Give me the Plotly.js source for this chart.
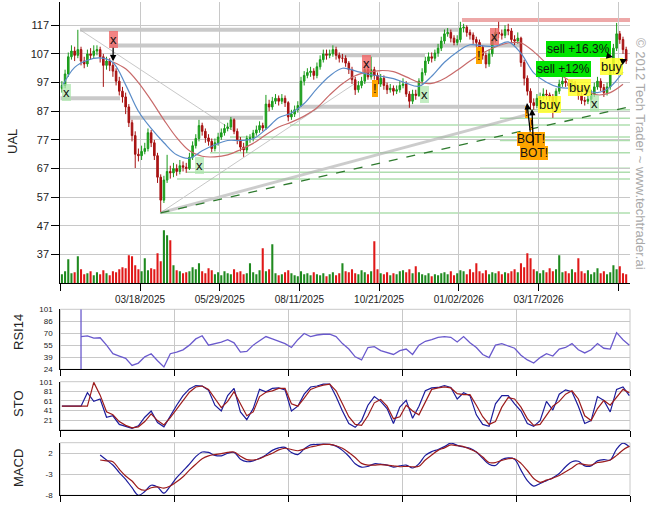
<!DOCTYPE html>
<html><head><meta charset="utf-8">
<script src="https://cdn.plot.ly/plotly-3.0.1.min.js"></script>
<style>html,body{margin:0;padding:0;background:#fff;}#chart{width:657px;height:514px;}</style>
</head><body><div id="chart"></div>
<script>
// ---------- DATA ----------
// one candle per 2 trading days, trading-day index = 1 + 2*i
const firstOpen = 95;
const closes = [
96,100,106,108,106.5,108.5,104.5,103.5,107,106.5,
108,108.5,106,103,104.5,103,101,97.5,94,92,
88.5,83,78.5,72,71.5,73,74,79.5,76,71.5,
64,56,63,66,65.5,67,66,68,67.5,67,
71,75,77.5,82,80,77.7,76.5,74,76,78,
79.5,81,81.5,84,80,77,74.5,73.5,77.5,77.7,
79.4,80.5,82,81.2,89.5,88.5,90.5,91.5,90.5,91.5,
90,85,86,87.5,89,97.5,99.5,100.5,101,99.5,
102.5,105,107,106.5,107,108.5,106.5,105.5,105.5,103.8,
101.5,98,94.5,96,97.5,101.5,99,101.5,99.5,96.5,
98.5,96,94.5,95,94,94.5,96,96.5,93,90.5,
93,92.5,97.5,100.5,104.5,106,105.5,107.3,109,111.5,
114,114.5,112.5,111,112,116,116.3,114.5,113.6,112,
111,109.3,106.5,103.5,107,112,114.5,114,113.5,115.5,
115,112,111.5,112.5,104,98.5,94,90,89,91.5,
92,93,92.7,92,89,94,96.5,97.5,97,95.8,
96.5,95,92.5,90.8,90.5,91.2,93,95.5,97.5,95.3,
93.5,95.5,101,109,114,112,108.5,104.5];
const highs = [
97.5,101.5,107.5,110,109.5,115.4,109.5,106,108.5,109,
110,110,109.5,107,106,105.5,104,102,99,95.5,
93.5,89.5,84,80,74,75,76,81,80.5,77,
72.5,65,64.5,71.8,68,69,68.5,70,69.5,69,
72.5,76.5,79,84,83,81,79,77.5,77.5,79.5,
81,82.5,83,85,84.5,81,78,76,78.5,79,
80.5,82,83.5,83,92.7,91,92,93,92.5,93,
92.5,90.5,87.5,89,90.5,99,101,102,102.5,102,
104,106.5,108.5,108.5,108.5,110,109.5,107.5,107,106.5,
104.5,102.5,99,97.5,99,103,102.5,106,102.5,100.5,
100,99.5,97,96.5,96,96,97.5,98.5,97.5,94,
94.5,94.5,98.5,102,106,107.5,107.5,108.5,110.5,113,
115.5,116,115.5,113.5,113.5,118.2,117.5,117,115.5,114.5,
113,112,110,107.5,108.5,113.5,116,118.2,115.5,117,
117.5,116,113.5,114.5,113,105,99.5,95,91.5,93,
93.5,95,94.5,93.5,93,95,98,99,98.5,98,
98,97.5,96,93.5,92,92.5,94.5,97,99,98.5,
96.5,97,102.5,110.5,117.8,115,113,109.5];
const lows = [
93.5,95,99,105,104.5,105.5,103,102,102.5,105,
105.5,106.5,104,95.5,101.5,101,99,96,92.5,90,
86,81.5,76.5,67.2,69.5,70,72,73,74.5,70,
62,51.9,55,62,63.5,64,64.5,65,66,65.5,
66.5,70,74,76.5,78.5,76,75,72.8,73,75,
77,78.5,80,80.5,79,75.5,73,71.1,72.5,76,
76.5,78.5,79.5,80,80.5,87,87.5,89.5,89,89.5,
88.5,83.5,84,85,86.5,88.5,96,98.5,99,98,
98.5,101.5,104,105,105.5,106,105,104,104,102.5,
100,96.5,92.7,93.5,95,96.5,98,98,98,95,
95.5,94.5,93,93.5,92.5,93,93.5,95,92,88.2,
89.5,91,92,96.5,99.5,103.5,104,104.5,106,108,
110.5,113,111,110,110,111,114.5,113,112,110.5,
109.5,108,105,102,102.5,106,111,112.5,112,112.5,
113.5,110.5,110,110.5,102.5,96,92.5,87.4,87.5,88,
90,91,91,90.5,84.7,88,93,95.5,95.5,94.5,
94.5,93.5,91,89.5,89,89.5,90,92,94.5,94,
92,92.5,94.5,100,108,110.5,107,103.5];
// volume (millions)
const volumes = [
9,12,24,10,11,27,14,9,10,12,
8,11,9,13,10,8,12,11,14,16,
15,28,27,18,14,12,25,13,15,14,
30,22,53,48,43,18,13,12,10,11,
12,16,14,20,12,10,15,13,9,11,
8,12,10,9,14,11,12,9,10,20,
11,9,13,35,12,14,39,10,8,9,
11,13,10,8,7,12,9,10,8,11,
9,8,10,7,9,11,8,10,20,12,
11,14,10,9,13,11,9,12,42,14,
10,9,11,8,10,9,12,13,11,14,
10,17,11,9,8,10,7,9,8,10,
11,9,12,8,10,13,12,9,14,11,
20,12,10,13,9,11,10,12,9,11,
10,12,14,11,20,16,30,25,14,12,
10,13,11,15,12,14,28,11,12,10,
14,11,25,12,10,13,9,11,15,10,
12,9,11,18,14,17,10,9];
// moving averages, one point per 8 trading days (index 1 + 8k)
const maFast = [95.5,102.3,104.8,105.6,104,96.2,87,81,76,71.8,70.6,73.2,75.3,76.8,76.8,77.4,80.7,84.7,86.4,89.7,94.9,99.3,102,101.1,99.9,99.2,98.4,96.8,95.7,99.2,104.1,107.7,110.2,109.8,109.7,111.2,107.2,100.4,97.1,95.3,95,94.4,93.5,95.5,100.7];
const maSlow = [null,null,null,null,104.2,101.8,97,90.8,84,77.8,73.2,71.3,71.1,71.8,73.6,75.8,78.8,81.5,83.2,85.3,88.2,92.7,96.6,99.4,100.6,101.2,100.8,99,97.1,96.7,98.4,101.3,104.5,107.3,109.4,110.8,110.8,107.8,103.6,99.9,97.3,94.5,92.7,93.5,96.4];
// RSI14, one point per 4 trading days from index 13
const rsiStart = [24,101];
const rsi14 = [66,67,64,64.5,55,44,41,38,29,32,40,44,35,27,44,46,49,55,63,67,55,57,59,62,58,46,47,55,60,66,63,60,57,52,62,70,66,68,69,69,66,57,50,40,36,52,53,48,46,43,48,50,43,55,60,62,65,66,65,59,66,58,52,43,39,55,57,54,51,42,36,32,39,44,41,50,52,57,49,45,49,57,51,50,71,62,55];
// Stochastic %K / %D, one point per 4 trading days from index 1
const stoK = [50,50,50,50,78,60,65,27,30,12,8,4,9,27,40,16,7,30,52,72,86,93,92,83,52,40,72,87,38,22,45,85,80,87,88,84,40,50,75,90,92,96,96,70,40,14,6,20,52,70,60,45,14,48,62,25,50,82,88,89,93,89,65,78,72,32,12,8,55,72,72,55,40,14,8,20,60,42,75,84,80,50,14,20,70,62,38,85,90,72];
const stoD = [50,50,50,50,50,99.6,73,38.5,32,18,10,5,7,18,34,20,11,26,43,62,79,90,92,85,65,47,60,80,55,30,38,70,79,82,87,87,55,50,67,85,90,94,96,82,55,28,12,10,30,57,64,50,24,28,52,40,32,60,85,88,90,88,76,74,74,52,28,12,18,48,68,65,48,24,10,12,30,50,60,75,82,65,30,20,45,62,52,68,85,78];
// MACD line / signal, one point per 4 trading days from index 25
const macdLine = [1.6,0.4,-0.8,-2.6,-4.2,-6.2,-8,-7.1,-5.6,-6,-7.5,-5.8,-3.8,-2.2,-0.6,1.2,2.3,2.2,1.5,1.4,2,2.2,0.6,0,0.2,0.8,1.6,2.7,3.3,3.4,2.2,1.7,3,4,4.1,4.2,4.1,3.7,2.7,1.3,-0.5,-1.3,-1.1,-0.5,-0.6,-0.8,-1.3,-1,-0.8,-1.5,-0.5,1.5,2.4,2.9,3.6,4.4,3.9,3.5,3.2,2.3,0.8,-0.6,-0.9,0.5,0.9,0.6,-2,-4.5,-5.8,-5.2,-4.5,-3.8,-2.8,-1.2,0,0.1,-1,-1,0.2,0.5,0.4,3,4.4,3.5];
const macdSignal = [0.4,0.2,0,-1.8,-3.4,-4.6,-6.3,-6.8,-6.2,-6,-6.3,-5.8,-4.8,-3.6,-2,-0.6,0.7,1.4,1.7,1.9,2.2,2.3,1.3,0.5,0.4,0.7,1.4,2,2.8,3.2,2.9,2.6,3,3.5,3.8,4.1,4.1,3.8,3.2,2.2,1,-0.4,-0.8,-0.8,-0.7,-0.8,-1,-1.2,-1.1,-1.2,-1.1,0.4,1.6,2.7,3.3,4,3.8,3.6,3,2.3,1.1,-0.2,-0.2,0.3,0.7,0.7,-0.4,-2.1,-4,-4.9,-4.4,-3.9,-3.3,-2.4,-1.5,-0.5,-0.7,-0.8,-0.2,0,0.4,1.5,2.8,3.7];
// axis ticks
const xTickIdx = [0,50,100,150,200,250,300,350];
const xTickLabels = ['','03/18/2025','05/29/2025','08/11/2025','10/21/2025','01/02/2026','03/17/2026',''];
const priceTicks = [37,47,57,67,77,87,97,107,117];
const rsiTickVals = [24,39.4,54.8,70.2,85.6,101];
const rsiTickText = ['24','39','55','70','86','101'];
const stoTicks = [21,41,61,81,101];
const macdTicks = [-8,-3,2];
// support / resistance levels: [price, fromIndex, toIndex]
const greyLevels = [[115.4,12.4,252],[109.9,31.2,288.4],[106.5,173.6,228.8],[91.5,0,37.5],[88.6,150.4,292.8],[84.7,42.5,127.2]];
const redLevels = [[118.8,252,357.4]];
const greenLevels = [[87.5,292.8],[84.6,275.8],[82.2,144.1],[78,106.5],[76.8,275.8],[72.5,93.9],[67.1,263.3],[65.7,79.5],[63.4,73.2],[51.5,62.5]];
// trend lines: [x0,y0,x1,y1]
const trendDashed = [62.9,51.6,357.4,88.6];
const trendGrey = [62.9,51.6,292.8,85.8];
const trendThin = [[12.4,115.4,107.7,80.5],[62.9,51.6,184.9,96.7]];
// signal labels: [text, kind, x, y, tipX, tipY]
const signals = [
 ['x','gx',3.6,93.4],['x','rx',33.2,112.1,33.1,104.4],['x','gx',87.6,68.1],
 ['x','rx',191.8,103.7],['!','or',197.4,94.8],['x','gx',228.5,92.9],
 ['!','or',262.4,106.5],['x','rx',272.4,113.1],['!','orS',292.2,86.6],['!','orS',295.3,82.4],
 ['BOT!','bot',295.3,77.4,292.8,89.9],['BOT!','bot',296.9,72.6,295.9,87.8],
 ['buy','buy',306.6,89.2],['buy','buy',325.7,95.2],['x','gx',335.4,89.7],
 ['buy','buy',345.8,102.5,355.5,105.2],['sell +12%','sell',315.4,101.7],
 ['sell +16.3%','sell',324.8,108.7,346.7,105.9]
];

// ---------- BUILD ----------
const X_MAX = 357.4;
const FONT = 'Liberation Sans, Arial, sans-serif';
const candleX = closes.map((_, i) => 1 + 2 * i);
const opens = closes.map((c, i) => i === 0 ? firstOpen : closes[i - 1]);
const maX = maFast.map((_, k) => 1 + 8 * k);
const rsiX = rsi14.map((_, j) => 13 + 4 * j);
const stoX = stoK.map((_, j) => 1 + 4 * j);
const macdX = macdLine.map((_, j) => 25 + 4 * j);
const volColors = closes.map((c, i) => c >= opens[i] ? '#1f8a1f' : '#e01818');

const traces = [
  {type:'bar', x:candleX, y:volumes, xaxis:'x', yaxis:'y5', marker:{color:volColors, line:{width:0}}, width:1.3, hoverinfo:'skip'},
  {type:'candlestick', x:candleX, open:opens, high:highs, low:lows, close:closes, xaxis:'x', yaxis:'y',
   increasing:{line:{color:'#1a9a1a', width:1}, fillcolor:'#22aa22'},
   decreasing:{line:{color:'#a41010', width:1}, fillcolor:'#b01414'}, whiskerwidth:0, hoverinfo:'skip'},
  {type:'scatter', mode:'lines', x:maX, y:maSlow, line:{color:'#c86a6a', width:1.2, shape:'spline'}, xaxis:'x', yaxis:'y', hoverinfo:'skip'},
  {type:'scatter', mode:'lines', x:maX, y:maFast, line:{color:'#5a8cc8', width:1.2, shape:'spline'}, xaxis:'x', yaxis:'y', hoverinfo:'skip'},
  {type:'scatter', mode:'lines', x:[13,13,13], y:[rsiStart[0], rsiStart[1], rsi14[0]], line:{color:'#6a5acd', width:1.3}, xaxis:'x2', yaxis:'y2', hoverinfo:'skip'},
  {type:'scatter', mode:'lines', x:rsiX, y:rsi14, line:{color:'#6a5acd', width:1.3}, xaxis:'x2', yaxis:'y2', hoverinfo:'skip'},
  {type:'scatter', mode:'lines', x:stoX, y:stoK, line:{color:'#1c1c9c', width:1.2}, xaxis:'x3', yaxis:'y3', hoverinfo:'skip'},
  {type:'scatter', mode:'lines', x:stoX, y:stoD, line:{color:'#9c1c1c', width:1.2}, xaxis:'x3', yaxis:'y3', hoverinfo:'skip'},
  {type:'scatter', mode:'lines', x:macdX, y:macdLine, line:{color:'#1c1c9c', width:1.2, shape:'spline'}, xaxis:'x4', yaxis:'y4', hoverinfo:'skip'},
  {type:'scatter', mode:'lines', x:macdX, y:macdSignal, line:{color:'#9c1c1c', width:1.2, shape:'spline'}, xaxis:'x4', yaxis:'y4', hoverinfo:'skip'}
];

const shapes = [];
greyLevels.forEach(([p,a,b]) => shapes.push({type:'line', xref:'x', yref:'y', x0:a, x1:b, y0:p, y1:p, line:{color:'rgba(165,165,165,0.6)', width:4}, layer:'below'}));
redLevels.forEach(([p,a,b]) => shapes.push({type:'line', xref:'x', yref:'y', x0:a, x1:b, y0:p, y1:p, line:{color:'rgba(225,110,110,0.6)', width:4}, layer:'below'}));
greenLevels.forEach(([p,a]) => shapes.push({type:'line', xref:'x', yref:'y', x0:a, x1:X_MAX, y0:p, y1:p, line:{color:'rgba(120,200,120,0.6)', width:1.5}, layer:'below'}));
shapes.push({type:'line', xref:'x', yref:'y', x0:trendGrey[0], y0:trendGrey[1], x1:trendGrey[2], y1:trendGrey[3], line:{color:'rgba(170,170,170,0.6)', width:3}, layer:'below'});
trendThin.forEach(t => shapes.push({type:'line', xref:'x', yref:'y', x0:t[0], y0:t[1], x1:t[2], y1:t[3], line:{color:'rgba(175,175,175,0.7)', width:1}, layer:'below'}));
shapes.push({type:'line', xref:'x', yref:'y', x0:trendDashed[0], y0:trendDashed[1], x1:trendDashed[2], y1:trendDashed[3], line:{color:'#2e7a2e', width:1.3, dash:'dash'}});
['2','3','4'].forEach(n => shapes.push({type:'rect', xref:'x'+n+' domain', yref:'y'+n+' domain', x0:0, x1:1, y0:0, y1:1, line:{color:'#c8c8c8', width:1}, layer:'below'}));

const styles = {
  gx:{bg:'rgba(170,230,170,0.7)', size:13, pad:1},
  rx:{bg:'rgba(240,100,100,0.8)', size:13, pad:1},
  or:{bg:'#ffa500', size:13, pad:1},
  orS:{bg:'#ffa500', size:11, pad:0},
  bot:{bg:'#ffa500', size:12, pad:0},
  buy:{bg:'rgba(255,255,40,0.85)', size:13, pad:1},
  sell:{bg:'#00e400', size:12, pad:1}
};
const annotations = [];
signals.forEach(s => {
  const st = styles[s[1]];
  const a = {text:s[0], font:{family:FONT, size:st.size, color:'#111'}, bgcolor:st.bg, borderpad:st.pad, borderwidth:0, xref:'x', yref:'y'};
  if (s.length > 4) {
    const PX = 1.594, PY = 2.867;
    Object.assign(a, {x:s[4], y:s[5], showarrow:true, arrowhead:2, arrowsize:1, arrowwidth:1.3, arrowcolor:'#000',
      ax:(s[2]-s[4])*PX, ay:-(s[3]-s[5])*PY, standoff:0});
  } else {
    Object.assign(a, {x:s[2], y:s[3], showarrow:false});
  }
  annotations.push(a);
});
const lab = (t, px, py) => ({text:t, xref:'paper', yref:'paper', x:px/657, y:1-py/514, showarrow:false, textangle:-90, font:{family:FONT, size:13, color:'#222'}, xanchor:'center', yanchor:'middle'});
annotations.push(lab('UAL', 12, 142), lab('RSI14', 18, 332), lab('STO', 18, 404), lab('MACD', 18, 468));
annotations.push({text:'© 2012 Tech Trader ~ www.techtrader.ai', xref:'paper', yref:'paper', x:641/657, y:1-154/514, showarrow:false, textangle:90,
  font:{family:FONT, size:13, color:'#a9a9a9'}, xanchor:'center', yanchor:'middle'});

const dom = [60.3/657, 630/657];
const subGrid = [0,1,2,3,4,5].map(k => k * X_MAX / 5);
const subX = (anchor) => ({domain:dom, anchor:anchor, range:[0, X_MAX], tickvals:subGrid, showticklabels:false, ticks:'outside', ticklen:6, tickcolor:'#000',
  showline:true, linecolor:'#000', linewidth:1, showgrid:true, gridcolor:'#c8c8c8', zeroline:false, fixedrange:true});
const subY = (anchor, py0, py1, range, tv, tt) => ({domain:[1-py1/514, 1-py0/514], anchor:anchor, range:range, tickvals:tv, ticktext:tt,
  tickfont:{family:FONT, size:8, color:'#222'}, ticks:'outside', ticklen:5, tickcolor:'rgba(0,0,0,0)', showline:true, linecolor:'#000', linewidth:1,
  showgrid:true, gridcolor:'#c8c8c8', zeroline:false, fixedrange:true});

const layout = {
  width:657, height:514, margin:{l:0, r:0, t:0, b:0}, paper_bgcolor:'#fff', plot_bgcolor:'#fff', showlegend:false, hovermode:false,
  font:{family:FONT},
  xaxis:{domain:dom, anchor:'y', range:[0, X_MAX], tickvals:xTickIdx, ticktext:xTickLabels, ticks:'outside', ticklen:7, tickcolor:'#000',
    tickfont:{family:FONT, size:10, color:'#222'}, showline:true, linecolor:'#000', linewidth:1, showgrid:true, gridcolor:'#c8c8c8', zeroline:false,
    rangeslider:{visible:false}, fixedrange:true},
  yaxis:{domain:[1-283.3/514, 1-2/514], anchor:'x', range:[27, 125.1], tickvals:priceTicks, ticks:'outside', ticklen:8, tickcolor:'#000',
    tickfont:{family:FONT, size:11, color:'#222'}, showline:true, linecolor:'#000', linewidth:1, showgrid:true, gridcolor:'#c8c8c8', zeroline:false, fixedrange:true},
  yaxis5:{overlaying:'y', anchor:'x', range:[0, 281], visible:false, fixedrange:true},
  xaxis2:subX('y2'), yaxis2:subY('x2', 309.3, 369.3, [24,101], rsiTickVals, rsiTickText),
  xaxis3:subX('y3'), yaxis3:subY('x3', 381.7, 429.7, [1,101], stoTicks, stoTicks.map(String)),
  xaxis4:subX('y4'), yaxis4:subY('x4', 442.7, 495.3, [-8,4.52], macdTicks, macdTicks.map(String)),
  shapes:shapes, annotations:annotations
};
Plotly.newPlot('chart', traces, layout, {staticPlot:true, displayModeBar:false});
</script></body></html>
